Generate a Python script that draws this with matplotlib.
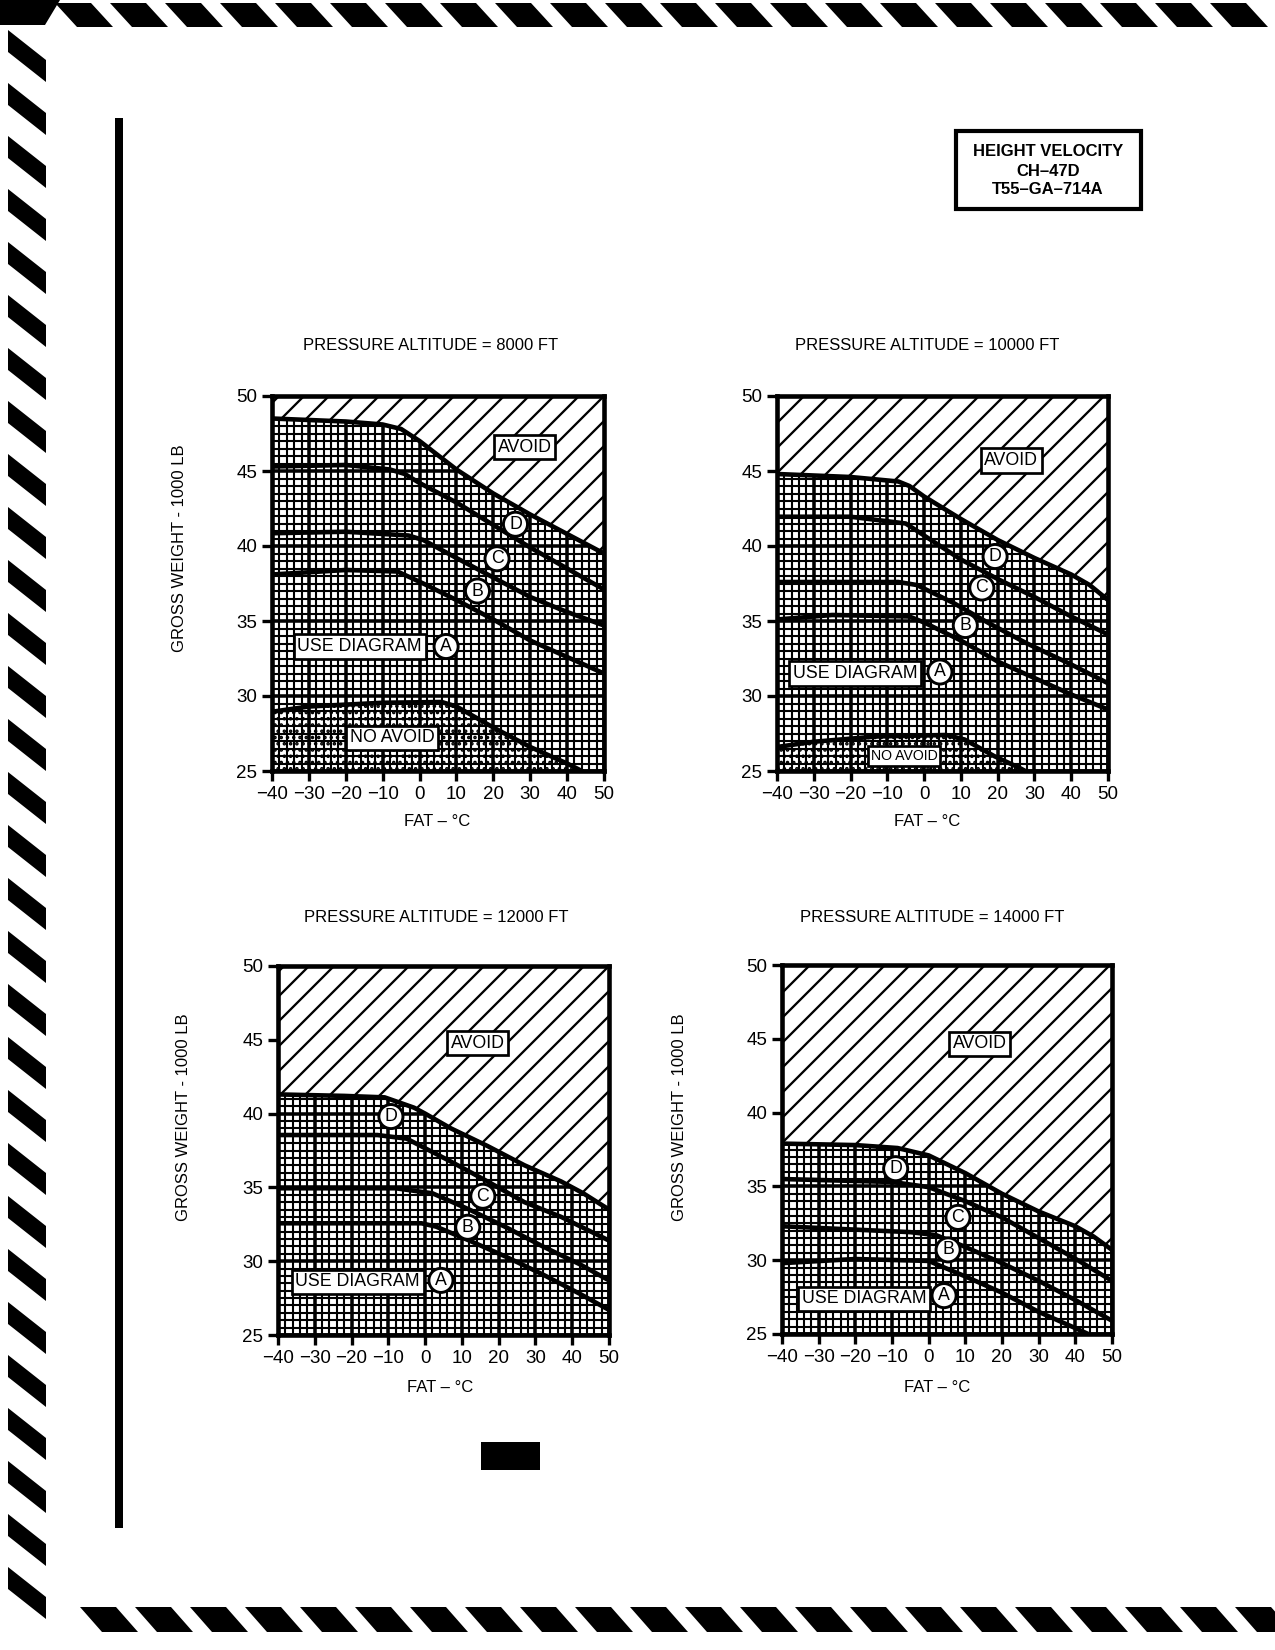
#!/usr/bin/env python3
"""Height velocity avoid charts, CH-47D / T55-GA-714A."""

import numpy as np
import matplotlib.pyplot as plt
from matplotlib.patches import Polygon, Rectangle

plt.rcParams["font.family"] = ["Liberation Sans", "DejaVu Sans"]
plt.rcParams["hatch.linewidth"] = 1.1

# ---- data (FAT degC, gross weight 1000 lb) ----
X_TICKS = [-40, -30, -20, -10, 0, 10, 20, 30, 40, 50]
Y_TICKS = [25, 30, 35, 40, 45, 50]

# 8000 ft
AV8_T = [-40, -20, -10, -5, 0, 10, 20, 30, 40, 50]
AV8_W = [48.5, 48.3, 48.1, 47.8, 47.0, 45.1, 43.5, 42.1, 40.8, 39.5]
D8_T = [-40, -20, -8, -4, 0, 10, 20, 30, 40, 50]
D8_W = [45.3, 45.4, 45.1, 44.8, 44.2, 42.9, 41.4, 39.9, 38.5, 37.1]
C8_T = [-40, -20, -3, 1, 10, 20, 30, 40, 50]
C8_W = [40.85, 40.95, 40.7, 40.4, 39.2, 37.9, 36.6, 35.6, 34.7]
B8_T = [-40, -20, -6, 1, 10, 20, 30, 40, 50]
B8_W = [38.1, 38.4, 38.3, 37.5, 36.4, 35.1, 33.7, 32.6, 31.5]
NA8_T = [-40, -30, -10, 6, 10, 20, 30, 40, 44]
NA8_W = [28.95, 29.3, 29.55, 29.6, 29.3, 27.9, 26.6, 25.5, 25.0]

# 10000 ft
AV10_T = [-40, -20, -7, -4, 0, 10, 20, 30, 40, 45, 50]
AV10_W = [44.8, 44.6, 44.3, 44.0, 43.3, 41.8, 40.4, 39.2, 38.1, 37.4, 36.4]
D10_T = [-40, -20, -5, 0, 10, 20, 30, 40, 50]
D10_W = [41.95, 41.95, 41.5, 40.7, 39.1, 37.8, 36.6, 35.3, 34.1]
C10_T = [-40, -7, -2, 8, 18, 28, 40, 50]
C10_W = [37.6, 37.6, 37.4, 36.2, 34.8, 33.5, 32.1, 30.85]
B10_T = [-40, -25, -4, 0, 10, 20, 30, 40, 50]
B10_W = [35.1, 35.4, 35.3, 34.9, 33.7, 32.3, 31.2, 30.1, 29.1]
NA10_T = [-40, -30, -13, 6, 11, 19, 26, 27.5]
NA10_W = [26.6, 26.95, 27.3, 27.4, 27.1, 26.0, 25.2, 25.0]

# 12000 ft
AV12_T = [-40, -22, -11, -3, 0, 7, 17, 27, 37, 43, 50]
AV12_W = [41.3, 41.2, 41.1, 40.4, 40.0, 39.0, 37.8, 36.5, 35.4, 34.6, 33.5]
D12_T = [-40, -13, -5, 7, 17, 27, 37, 50]
D12_W = [38.55, 38.55, 38.3, 36.75, 35.4, 34.0, 33.0, 31.4]
C12_T = [-40, -8, 2, 12, 22, 32, 42, 50]
C12_W = [34.94, 34.94, 34.6, 33.5, 32.3, 31.0, 29.8, 28.7]
B12_T = [-40, -1, 3, 12, 22, 32, 42, 50]
B12_W = [32.57, 32.57, 32.34, 31.4, 30.3, 29.1, 27.8, 26.7]

# 14000 ft
AV14_T = [-40, -20, -8.5, 0, 10, 20, 30, 40, 45, 50]
AV14_W = [37.9, 37.8, 37.6, 37.1, 35.9, 34.5, 33.3, 32.3, 31.6, 30.7]
D14_T = [-40, -10, 0, 10, 20, 30, 40, 50]
D14_W = [35.5, 35.3, 34.95, 34.0, 32.9, 31.5, 30.1, 28.6]
C14_T = [-40, -5, 2, 10, 20, 30, 40, 50]
C14_W = [32.3, 31.9, 31.7, 30.9, 29.8, 28.6, 27.3, 25.9]
B14_T = [-40, -20, 0, 10, 20, 30, 40, 43.5]
B14_W = [29.8, 30.08, 29.95, 28.9, 27.8, 26.5, 25.4, 25.0]

# label anchor points (degC, 1000 lb)
LBL8 = {"AVOID": (28.5, 46.6), "USE DIAGRAM": (-16.2, 33.3), "NO AVOID": (-7.5, 27.2),
        "A": (7.2, 33.3), "B": (15.7, 37.0), "C": (21.0, 39.15), "D": (26.0, 41.45)}
LBL10 = {"AVOID": (23.7, 45.7), "USE DIAGRAM": (-18.7, 31.5), "NO AVOID": (-5.4, 26.0),
         "A": (4.3, 31.6), "B": (11.2, 34.7), "C": (15.7, 37.2), "D": (19.3, 39.3)}
LBL12 = {"AVOID": (14.3, 44.76), "USE DIAGRAM": (-18.3, 28.6),
         "A": (4.3, 28.7), "B": (11.6, 32.3), "C": (15.7, 34.4), "D": (-9.3, 39.8)}
LBL14 = {"AVOID": (13.9, 44.65), "USE DIAGRAM": (-17.6, 27.4),
         "A": (4.2, 27.6), "B": (5.3, 30.7), "C": (8.0, 32.9), "D": (-9.0, 36.2)}

FIG_W, FIG_H = 1275, 1650


def frac(left, top, right, bottom):
    return [left / FIG_W, 1 - bottom / FIG_H, (right - left) / FIG_W, (bottom - top) / FIG_H]


def draw_panel(ax, avoid, lines, no_avoid, labels):
    ax.set_xlim(-40, 50)
    ax.set_ylim(25, 50)
    ax.set_xticks(X_TICKS)
    ax.set_yticks(Y_TICKS)
    ax.set_xticks(np.arange(-40, 51, 2), minor=True)
    ax.set_yticks(np.arange(25, 50.01, 0.5), minor=True)
    ax.set_axisbelow(True)
    ax.grid(which="minor", color="black", lw=1.0)
    ax.grid(which="major", color="black", lw=1.7)
    ax.tick_params(which="minor", length=0)
    ax.tick_params(which="major", direction="out", length=5, width=1.6,
                   labelsize=9, pad=2)
    for s in ax.spines.values():
        s.set_linewidth(2.2)
        s.set_zorder(5)

    t, w = avoid
    ax.fill_between(t, w, 50, facecolor="white", edgecolor="black", hatch="//",
                    linewidth=0, zorder=1)
    ax.plot(t, w, color="black", lw=2.2, zorder=3)
    if no_avoid is not None:
        t, w = no_avoid
        ax.fill_between(t, 25, w, facecolor="none", edgecolor="black", hatch="....",
                        linewidth=0, zorder=1)
        ax.plot(t, w, color="black", lw=2.2, zorder=3)
    for t, w in lines:
        ax.plot(t, w, color="black", lw=2.2, zorder=3)

    small_no_avoid = no_avoid is not None and max(no_avoid[1]) < 28
    for key, (x, y) in labels.items():
        if len(key) == 1:
            ax.text(x, y, key, ha="center", va="center", fontsize=8.5, zorder=6,
                    bbox=dict(boxstyle="circle,pad=0.2", fc="white", ec="black", lw=1.4))
        else:
            fs = 6.8 if (key == "NO AVOID" and small_no_avoid) else 8.5
            ax.text(x, y, key, ha="center", va="center", fontsize=fs, zorder=6,
                    bbox=dict(boxstyle="square,pad=0.2", fc="white", ec="black", lw=1.3))


def main():
    fig = plt.figure(figsize=(FIG_W / 150, FIG_H / 150), dpi=150)

    # page background with stripes, side bar and title box (pixel coordinates)
    page = fig.add_axes([0, 0, 1, 1])
    page.set_xlim(0, FIG_W)
    page.set_ylim(FIG_H, 0)
    page.axis("off")
    for x0 in np.arange(55, 1240, 55):
        page.add_patch(Polygon([(x0, 3), (x0 + 36, 3), (x0 + 58, 27), (x0 + 22, 27)],
                               closed=True, fc="black", ec="none"))
    for x0 in np.arange(80, 1250, 55):
        page.add_patch(Polygon([(x0, 1607), (x0 + 36, 1607), (x0 + 58, 1632), (x0 + 22, 1632)],
                               closed=True, fc="black", ec="none"))
    for y0 in np.arange(30, 1580, 53):
        page.add_patch(Polygon([(8, y0), (8, y0 + 22), (46, y0 + 52), (46, y0 + 30)],
                               closed=True, fc="black", ec="none"))
    page.add_patch(Polygon([(0, 0), (60, 0), (45, 25), (0, 25)], closed=True, fc="black", ec="none"))
    page.add_patch(Rectangle((115, 118), 8, 1410, fc="black", ec="none"))
    page.add_patch(Rectangle((481, 1442), 59, 28, fc="black", ec="none"))
    page.add_patch(Rectangle((956, 131), 185, 78, fc="none", ec="black", lw=2))
    for i, line in enumerate(["HEIGHT VELOCITY", "CH\u201347D", "T55\u2013GA\u2013714A"]):
        page.text(1048, 152 + i * 19, line, ha="center", va="center",
                  fontsize=8, fontweight="bold")

    titles = [("PRESSURE ALTITUDE = 8000 FT", 431, 346),
              ("PRESSURE ALTITUDE = 10000 FT", 927, 346),
              ("PRESSURE ALTITUDE = 12000 FT", 436, 918),
              ("PRESSURE ALTITUDE = 14000 FT", 932, 918)]
    for txt, x, y in titles:
        page.text(x, y, txt, ha="center", va="center", fontsize=8)
    for x, y in [(437, 821), (927, 821), (440, 1387), (937, 1387)]:
        page.text(x, y, "FAT \u2013 \u00b0C", ha="center", va="center", fontsize=8)
    for x, y in [(179, 548), (184, 1117), (680, 1117)]:
        page.text(x, y, "GROSS WEIGHT - 1000 LB", ha="center", va="center",
                  fontsize=8, rotation=90)

    ax1 = fig.add_axes(frac(272, 396, 604, 771))
    draw_panel(ax1, (AV8_T, AV8_W), [(D8_T, D8_W), (C8_T, C8_W), (B8_T, B8_W)],
               (NA8_T, NA8_W), LBL8)
    ax2 = fig.add_axes(frac(777, 396, 1108, 771))
    draw_panel(ax2, (AV10_T, AV10_W), [(D10_T, D10_W), (C10_T, C10_W), (B10_T, B10_W)],
               (NA10_T, NA10_W), LBL10)
    ax3 = fig.add_axes(frac(278, 966, 609, 1335))
    draw_panel(ax3, (AV12_T, AV12_W), [(D12_T, D12_W), (C12_T, C12_W), (B12_T, B12_W)],
               None, LBL12)
    ax4 = fig.add_axes(frac(782, 965, 1112, 1334))
    draw_panel(ax4, (AV14_T, AV14_W), [(D14_T, D14_W), (C14_T, C14_W), (B14_T, B14_W)],
               None, LBL14)

    fig.savefig("out.png", dpi=150, facecolor="white")


if __name__ == "__main__":
    main()
